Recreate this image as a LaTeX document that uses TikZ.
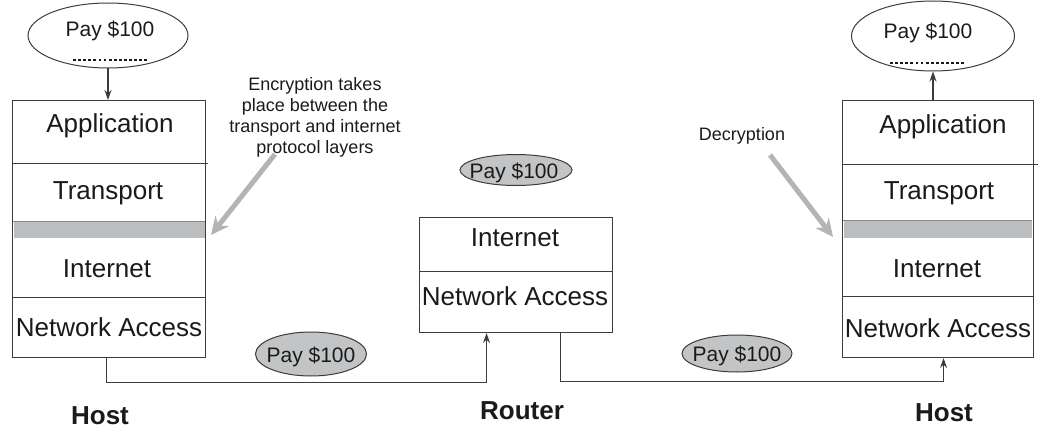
\documentclass[tikz,border=0pt]{standalone}
\usepackage{fontspec}
\setmainfont{Liberation Sans}
\usetikzlibrary{arrows.meta,calc,shapes.geometric}

\definecolor{ink}{HTML}{1A1A1A}
\definecolor{edge}{HTML}{3C3C3C}
\definecolor{band}{HTML}{BCBDBF}
\definecolor{pointer}{HTML}{B3B4B6}
\definecolor{packet}{HTML}{C3C4C6}

\begin{document}
\begin{tikzpicture}[x=1pt,y=-1pt,
  frame/.style={draw=edge, line width=1.1pt, inner sep=0pt, anchor=north west},
  layer/.style={font=\fontsize{26}{30}\selectfont, text=ink, anchor=base, inner sep=0pt},
  caption/.style={font=\bfseries\fontsize{26}{30}\selectfont, text=ink, anchor=base, inner sep=0pt},
  note/.style={font=\fontsize{18}{21}\selectfont, text=ink, inner sep=0pt, align=center},
  sep/.style={draw=edge, line width=1pt},
  message/.style={ellipse, draw=edge, line width=1pt, inner sep=0pt},
  packetbox/.style={ellipse, draw=edge, line width=1pt, fill=packet, inner sep=0pt},
  paytext/.style={font=\fontsize{21}{24}\selectfont, text=ink, anchor=base, inner sep=0pt},
  dots/.style={draw=ink, line width=2.8pt, dash pattern=on 2.8pt off 2.3pt},
  conn/.style={draw=edge, line width=1.1pt, -{Stealth[length=10pt,width=7pt,inset=3.5pt]}},
  pointerarrow/.style={draw=pointer, line width=5pt, -{Stealth[length=18pt,width=17pt,inset=6pt]}},
]
\useasboundingbox (0,0) rectangle (1041,428);

% ---------- sending host ----------
\node[frame, minimum width=193pt, minimum height=257pt] (hostL) at (12,100) {};
\fill[band] (13.5,221) rectangle (204.5,238);
\draw[edge!60, line width=0.7pt] (13,221) -- (204.5,221);
\draw[sep] (12,163) -- (208,163);
\draw[sep] (12,297) -- (205,297);
\node[layer] (hostL-app) at (110,132) {Application};
\node[layer] (hostL-tr)  at (108,199) {Transport};
\node[layer] (hostL-in)  at (107,277) {Internet};
\node[layer] (hostL-na)  at (109,336) {Network Access};
\node[caption] (hostL-cap) at (100,424) {Host};

\node[message, minimum width=160pt, minimum height=65pt] (msgL) at (108,35.5) {};
\node[paytext] (msgL-txt) at (110,37) {Pay \$100};
\draw[dots] (73,60) -- (148,60);
\draw[conn] (msgL.south) -- (msgL.south |- hostL.north);

% ---------- router ----------
\node[frame, minimum width=193pt, minimum height=115pt] (router) at (419,217) {};
\draw[sep] (419,271) -- (612,271);
\node[layer] (router-in) at (515,246) {Internet};
\node[layer] (router-na) at (515,305) {Network Access};
\node[caption] (router-cap) at (522,419) {Router};
\node[packetbox, minimum width=112pt, minimum height=31pt] (pktR) at (516,170) {};
\node[paytext] (pktR-txt) at (514,178) {Pay \$100};

% ---------- receiving host ----------
\node[frame, minimum width=191pt, minimum height=257pt] (hostR) at (842,100) {};
\fill[band] (843.5,220) rectangle (1031.5,238);
\draw[edge!60, line width=0.7pt] (843,220) -- (1032,220);
\draw[sep] (842,164) -- (1038,164);
\draw[sep] (842,296) -- (1033,296);
\node[layer] (hostR-app) at (943,133) {Application};
\node[layer] (hostR-tr)  at (939,199) {Transport};
\node[layer] (hostR-in)  at (937,277) {Internet};
\node[layer] (hostR-na)  at (938,337) {Network Access};
\node[caption] (hostR-cap) at (944,421) {Host};

\node[message, minimum width=163pt, minimum height=70pt] (msgR) at (933,36) {};
\node[paytext] (msgR-txt) at (928,39) {Pay \$100};
\draw[dots] (890,63) -- (966,63);
\draw[conn] (hostR.north -| msgR.south) -- (msgR.south);

% ---------- packets on the links ----------
\node[packetbox, minimum width=111pt, minimum height=44pt] (pktL) at (311,354) {};
\node[paytext] (pktL-txt) at (311,362) {Pay \$100};
\node[packetbox, minimum width=110pt, minimum height=37pt] (pktM) at (737,353.5) {};
\node[paytext] (pktM-txt) at (737,361) {Pay \$100};

% ---------- links ----------
\draw[conn] ($(hostL.south)+(-2.5,0)$) -- ++(0,24) -| ($(router.south)+(-29.5,0)$);
\draw[conn] ($(router.south)+(44.5,0)$) -- ++(0,48) -| ($(hostR.south)+(5.5,0)$);

% ---------- annotations ----------
\node[note, anchor=north] (enc) at (315,77)
  {Encryption takes\\place between the\\transport and internet\\protocol layers};
\coordinate (encTip) at (211,235);
\draw[pointerarrow] ($(enc.south)+(-40,-3)$) -- (encTip);

\node[note, anchor=base] (dec) at (742,140) {Decryption};
\coordinate (decTip) at (833,237);
\draw[pointerarrow] ($(dec.south)+(28,11)$) -- (decTip);
\end{tikzpicture}
\end{document}
